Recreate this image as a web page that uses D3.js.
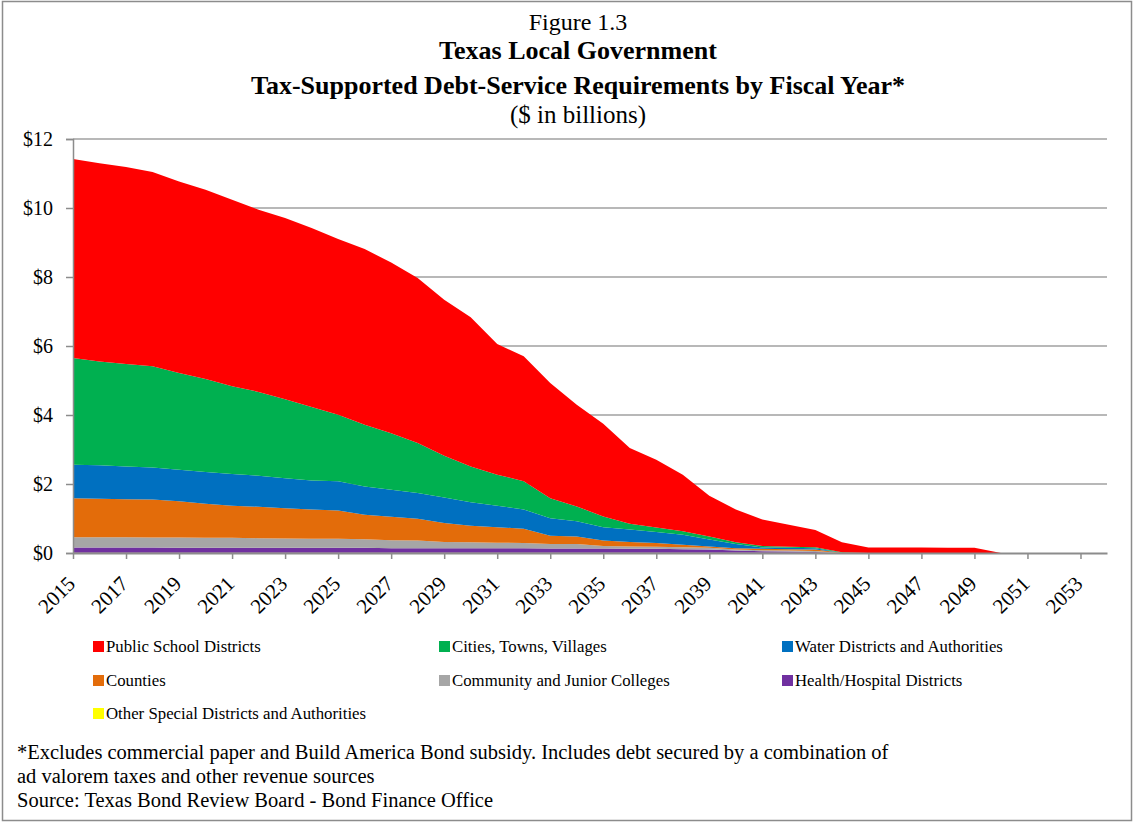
<!DOCTYPE html>
<html>
<head>
<meta charset="utf-8">
<script src="https://cdn.jsdelivr.net/npm/d3@7"></script>
<style>
  html, body { margin: 0; padding: 0; background: #fff; }
  svg text { font-family: "Liberation Serif", "Times New Roman", serif; fill: #000; }
</style>
</head>
<body>
<svg id="chart" width="1135" height="824"></svg>
<script>
// Fiscal years on the category axis
const years = d3.range(2015, 2055);

// Tax-supported debt service by issuer type, $ billions
const publicSchools = [5.77,5.75,5.71,5.63,5.55,5.49,5.41,5.28,5.25,5.19,5.09,5.09,4.95,4.78,4.52,4.32,3.79,3.62,3.34,2.95,
                       2.69,2.19,1.96,1.64,1.18,0.95,0.77,0.64,0.50,0.29,0.16,0.16,0.16,0.15,0.15,0,0,0,0,0];
const cities        = [3.09,3.01,2.97,2.93,2.81,2.69,2.54,2.43,2.29,2.13,1.93,1.79,1.64,1.45,1.21,1.04,0.90,0.82,0.58,0.43,
                       0.31,0.17,0.13,0.10,0.09,0.05,0.04,0.03,0.03,0.01,0,0,0,0,0,0,0,0,0,0];
const waterDistricts= [0.97,0.97,0.95,0.93,0.91,0.92,0.92,0.90,0.87,0.84,0.85,0.82,0.78,0.75,0.74,0.68,0.62,0.56,0.51,0.44,
                       0.39,0.36,0.32,0.29,0.20,0.12,0.04,0.04,0.04,0,0,0,0,0,0,0,0,0,0,0];
const counties      = [1.13,1.11,1.10,1.10,1.05,0.99,0.93,0.91,0.88,0.85,0.82,0.71,0.68,0.63,0.55,0.48,0.45,0.41,0.24,0.22,
                       0.16,0.13,0.11,0.07,0.04,0.04,0.04,0.04,0.04,0.01,0,0,0,0,0,0,0,0,0,0];
const colleges      = [0.30,0.30,0.30,0.29,0.30,0.29,0.29,0.28,0.27,0.26,0.26,0.25,0.23,0.22,0.18,0.17,0.16,0.15,0.13,0.13,
                       0.07,0.07,0.06,0.06,0.05,0.03,0.03,0.03,0.03,0,0,0,0,0,0,0,0,0,0,0];
const hospitals     = [0.15,0.15,0.15,0.15,0.14,0.14,0.14,0.14,0.14,0.14,0.14,0.14,0.13,0.13,0.13,0.13,0.13,0.13,0.12,0.12,
                       0.12,0.11,0.11,0.10,0.09,0.06,0.04,0.03,0.02,0,0,0,0,0,0,0,0,0,0,0];
const otherSpecial  = [0.01,0.01,0.01,0.01,0.01,0.01,0.01,0.01,0.01,0.01,0.01,0.01,0.01,0.01,0.01,0.01,0.01,0.01,0.01,0.01,
                       0.01,0.01,0.01,0.01,0.01,0.01,0.01,0.01,0.01,0,0,0,0,0,0,0,0,0,0,0];

// Legend order (reading order) and colours
const seriesNames = ["Public School Districts","Cities, Towns, Villages","Water Districts and Authorities",
                     "Counties","Community and Junior Colleges","Health/Hospital Districts",
                     "Other Special Districts and Authorities"];
const seriesValues = [publicSchools, cities, waterDistricts, counties, colleges, hospitals, otherSpecial];
const seriesColors = ["#ff0000","#00b050","#0070c0","#e36c0a","#a6a6a6","#7030a0","#ffff00"];

const yTicks = [0, 2, 4, 6, 8, 10, 12];
const xTickYears = years.filter(y => (y - 2015) % 2 === 0);

const svg = d3.select("#chart");

// outer frame
svg.append("rect").attr("x", 2.5).attr("y", 1.5).attr("width", 1129).attr("height", 819)
  .attr("fill", "#fff").attr("stroke", "#8c8c8c").attr("stroke-width", 1.5);

// titles
const titles = [
  {t: "Figure 1.3", y: 30, w: "normal", s: 24},
  {t: "Texas Local Government", y: 59, w: "bold", s: 26},
  {t: "Tax-Supported Debt-Service Requirements by Fiscal Year*", y: 94, w: "bold", s: 26},
  {t: "($ in billions)", y: 123, w: "normal", s: 25}
];
svg.selectAll("text.title").data(titles).join("text")
  .attr("class", "title")
  .attr("x", 578).attr("y", d => d.y)
  .attr("text-anchor", "middle")
  .attr("font-size", d => d.s).attr("font-weight", d => d.w)
  .text(d => d.t);

// scales
const x = d3.scaleLinear().domain([2015, 2054]).range([73, 1107]);
const y = d3.scaleLinear().domain([0, 12]).range([553, 139]);

// gridlines
svg.append("g").selectAll("line").data(yTicks.filter(d => d > 0)).join("line")
  .attr("x1", 73).attr("x2", 1107)
  .attr("y1", d => y(d)).attr("y2", d => y(d))
  .attr("stroke", "#a0a0a0").attr("stroke-width", 1.5);

// stacked areas: bottom-most layer is the last legend entry
const rows = years.map((yr, i) => {
  const r = {year: yr};
  seriesNames.forEach((n, k) => r[n] = seriesValues[k][i]);
  return r;
});
const stackKeys = seriesNames.slice().reverse();
const stacked = d3.stack().keys(stackKeys)(rows);
const area = d3.area()
  .x(d => x(d.data.year))
  .y0(d => y(d[0]))
  .y1(d => y(d[1]));

svg.append("g").selectAll("path").data(stacked).join("path")
  .attr("d", area)
  .attr("fill", d => seriesColors[seriesNames.indexOf(d.key)]);

// y axis
const yAxis = d3.axisLeft(y).tickValues(yTicks).tickFormat(d => "$" + d).tickSize(7).tickPadding(13);
const gy = svg.append("g").attr("transform", "translate(73,0)").call(yAxis);
gy.select(".domain").attr("stroke", "#8c8c8c").attr("stroke-width", 1.5);
gy.selectAll(".tick line").attr("stroke", "#8c8c8c").attr("stroke-width", 1.5);
gy.selectAll(".tick text").attr("font-size", 20).attr("font-family", "Liberation Serif").attr("fill", "#000");

// x axis
const xAxis = d3.axisBottom(x).tickValues(xTickYears).tickFormat(d3.format("d")).tickSize(6).tickSizeOuter(0);
const gx = svg.append("g").attr("transform", "translate(0,553)").call(xAxis);
gx.select(".domain").attr("stroke", "#8c8c8c").attr("stroke-width", 2);
gx.selectAll(".tick line").attr("stroke", "#8c8c8c").attr("stroke-width", 1.5);
gx.selectAll(".tick text")
  .attr("font-size", 21).attr("font-family", "Liberation Serif").attr("fill", "#000")
  .attr("text-anchor", "end")
  .attr("dy", 0).attr("y", 0)
  .attr("transform", "translate(3,32) rotate(-45)");

// legend in three columns
const legendCols = [93, 439, 782];
const legendRows = [647, 681, 714];
const lg = svg.append("g").selectAll("g").data(seriesNames).join("g")
  .attr("transform", (d, i) => `translate(${legendCols[i % 3]},${legendRows[Math.floor(i / 3)]})`);
lg.append("rect").attr("x", 0).attr("y", -6).attr("width", 11).attr("height", 11)
  .attr("fill", (d, i) => seriesColors[i]);
lg.append("text").attr("x", 13).attr("y", 5).attr("font-size", 16.8).text(d => d);

// footnotes
const notes = [
  "*Excludes commercial paper and Build America Bond subsidy. Includes debt secured by a combination of",
  "ad valorem taxes and other revenue sources",
  "Source: Texas Bond Review Board - Bond Finance Office"
];
svg.selectAll("text.note").data(notes).join("text")
  .attr("class", "note")
  .attr("x", 17).attr("y", (d, i) => 759 + i * 24)
  .attr("font-size", 20.5)
  .text(d => d);
</script>
</body>
</html>
